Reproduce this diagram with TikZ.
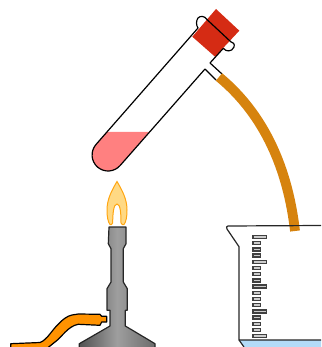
\documentclass[tikz,border=0pt]{standalone}
\usepackage{xcolor}
\usetikzlibrary{calc}
\definecolor{stopperred}{HTML}{D52B14}
\definecolor{hosebrown}{HTML}{D6830E}
\definecolor{liquidpink}{HTML}{FF8080}
\definecolor{flameedge}{HTML}{FFA510}
\definecolor{flamefill}{HTML}{FFD984}
\definecolor{hoseorange}{HTML}{FF9200}
\definecolor{waterblue}{HTML}{B3DBF8}
\tikzset{
  glass/.style={line width=1.2pt,black,line join=round},
  gaugetick/.style={draw=black!75,line width=1.3pt,fill=black!20}
}
\begin{document}
\begin{tikzpicture}[x=1pt,y=-1pt]
\useasboundingbox (0,0) rectangle (321,347);
\fill[liquidpink] (107,132) -- (149,132) -- (120,165.5) arc[start angle=41,delta angle=180,radius=16] -- cycle;
\fill[stopperred] (216,9) -- (239.3,30.7) -- (215,56.7) -- (192.3,36.7) -- cycle;
\draw[glass] (210,63) -- (223.3,48.3) .. controls (226,52) and (232,52) .. (234,47)
  .. controls (235,44) and (233,42) .. (230.7,41.7) -- (206.7,19.3)
  .. controls (205,16) and (200,15.5) .. (198,18) .. controls (196,21) and (196,25) .. (198,28)
  -- (96,144.5) arc[start angle=221,end angle=41,radius=16] -- (205,69);
\draw[glass] (210,63) -- (222,74);
\draw[glass] (205,69) -- (216,80);
\draw[hosebrown,line width=9.8pt] (219,77) .. controls (265,115) and (288,170) .. (295,231);
\draw[flameedge,fill=flamefill,line width=1pt] (117,181.5) .. controls (112,190) and (107,199) .. (107,210)
  .. controls (107,217) and (108,222) .. (110,224.5) .. controls (111,225) and (112,224.5) .. (112.7,223)
  .. controls (112.7,214) and (113.5,204) .. (117,204) .. controls (120.5,204) and (121,214) .. (121,223)
  .. controls (121.5,224.5) and (123,225) .. (124,224.5) .. controls (126,222) and (127,217) .. (127,210)
  .. controls (127,199) and (122,190) .. (117,181.5) -- cycle;
\draw[black!85,line width=1.2pt,line join=round,left color=black!68,right color=black!58,middle color=black!38]
  (109,227) -- (126,227) -- (126,243.7) -- (123.3,248.7) -- (123.3,282) -- (127.3,288.7)
  -- (127.3,310.3) -- (125.3,310.3) -- (125.3,326) -- (155,343.7) -- (155,350) -- (79.3,350)
  -- (79.3,343.7) -- (110,326) -- (110,310.3) -- (107,310.3) -- (107,288.7) -- (111,282)
  -- (111,248.7) -- (108.3,243.7) -- cycle;
\draw[black,line width=1.2pt,fill=hoseorange,line join=round] (10.7,350) -- (10.7,343.7) -- (40,342.5)
  .. controls (47,340) and (52,330) .. (58,324.5) .. controls (62,320) and (67,316) .. (72,315)
  -- (78.3,314) -- (100,314.3) -- (101.7,316.3) -- (106.7,316.3)
  -- (106.7,322) -- (101.7,322) -- (100,325.3) -- (78.3,324.3)
  .. controls (68,326) and (62,337) .. (55,342) -- (45,350) -- cycle;
\fill[waterblue] (239,340) -- (321,340) -- (321,347) -- (244,347) -- cycle;
\draw[glass,black!85] (321,225.5) -- (228,226) .. controls (226.5,226) and (226,227.5) .. (227,229) -- (239,246.7) -- (239,340) -- (321,340);
\draw[glass,black!85] (239,340) -- (244,347);
\foreach \i in {0,...,16}{
  \pgfmathsetmacro{\ticky}{237+6.2*\i}
  \pgfmathsetmacro{\tickend}{mod(\i,4)==0 ? 266.5 : 260.5}
  \draw[gaugetick] (253,\ticky-1.5) rectangle (\tickend,\ticky+1.5);}
\end{tikzpicture}
\end{document}
